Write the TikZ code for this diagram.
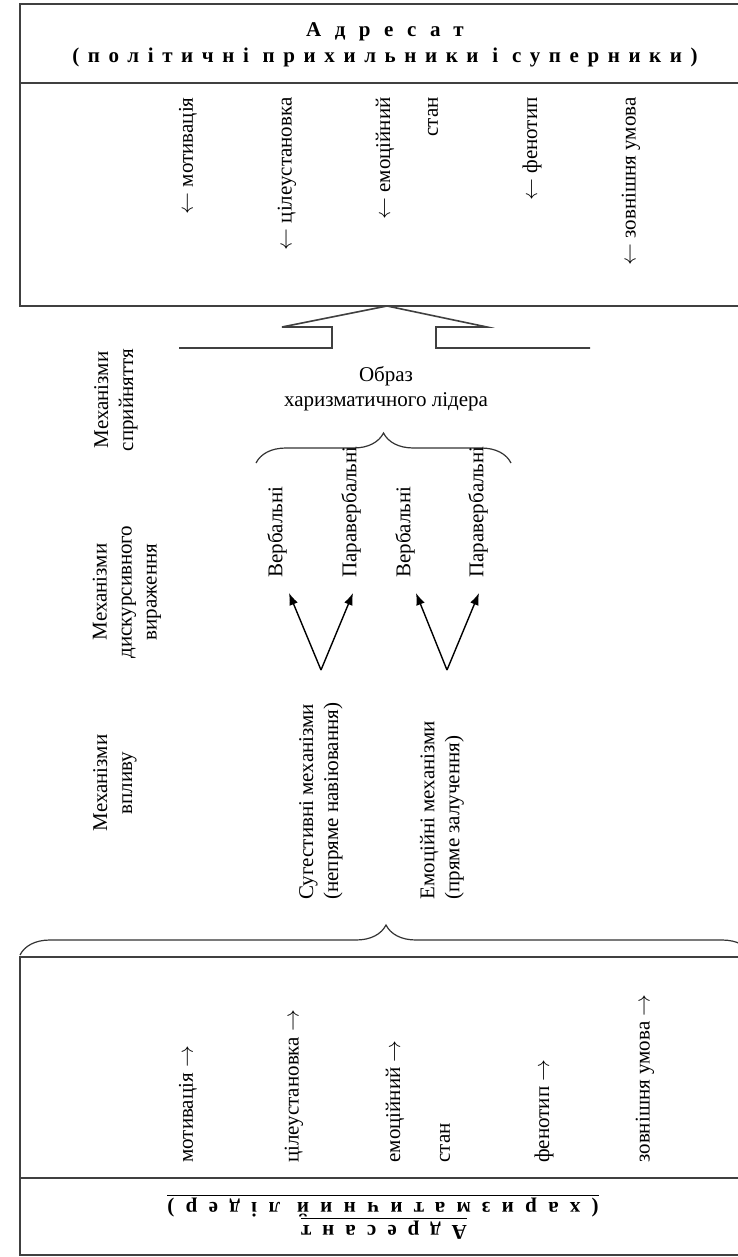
\documentclass[tikz,border=0pt]{standalone}
\usepackage{fontspec}
\setmainfont{Liberation Serif}
\usetikzlibrary{arrows.meta,decorations.pathreplacing}

\begin{document}
\begin{tikzpicture}[x=0.5pt, y=-0.5pt]
    \tikzset{
      frame/.style={draw=black!75, line width=0.8pt},
      txt/.style={font=\fontsize{10.5}{12.5}\selectfont, inner sep=0pt},
      vlab/.style={txt, rotate=90},
      side/.style={txt, rotate=90, align=center},
      head/.style={inner sep=0pt, font=\fontsize{10.5}{12.5}\selectfont\bfseries\addfontfeature{LetterSpace=#1}},
      hbrace/.style={decorate, decoration={brace, amplitude=15pt}, draw=black!80, line width=0.6pt},
      vee/.style={-{Latex[length=6pt,width=4.5pt]}, line width=0.7pt},
    }
    \useasboundingbox (0,0) rectangle (738,1257);
    \clip (0,0) rectangle (738,1257);
    % ===== Addressee (top box) =====
    \draw[frame] (760,4) -- (20,4) -- (20,306) -- (760,306);
    \draw[frame] (20,83) -- (760,83);
    \node[head=64] (adr) at (385,32) {Адресат};
    \node[head=41] (adrsub) at (385,57) {(політичні прихильники і суперники)};
    \node[vlab, anchor=east] (tmot) at (188,97) {$\leftarrow$ мотивація};
    \node[vlab, anchor=east] (tcil) at (287,97) {$\leftarrow$ цілеустановка};
    \node[vlab, anchor=east] (temo) at (385,97) {$\leftarrow$ емоційний};
    \node[vlab, anchor=east] (tstan) at (433,97) {стан};
    \node[vlab, anchor=east] (tfen) at (532,97) {$\leftarrow$ фенотип};
    \node[vlab, anchor=east] (tzov) at (631,97) {$\leftarrow$ зовнішня умова};
    % ===== Perception =====
    \draw[frame] (179,348) -- (332,348) -- (332,327) -- (282,327) -- (387,306)
      -- (487,327) -- (436,327) -- (436,348) -- (590,348);
    \node[side] (msp) at (116,400) {Механізми\\сприйняття};
    \node[txt, align=center] (obraz) at (386,389) {Образ\\харизматичного лідера};
    \draw[hbrace] (256,463) -- (511,463);
    % ===== Discursive expression =====
    \node[side] (mdv) at (127,592) {Механізми\\дискурсивного\\вираження};
    \node[vlab, anchor=west] (verb1) at (277,578) {Вербальні};
    \node[vlab, anchor=west] (para1) at (351,578) {Паравербальні};
    \node[vlab, anchor=west] (verb2) at (405,578) {Вербальні};
    \node[vlab, anchor=west] (para2) at (478,578) {Паравербальні};
    \coordinate (v1) at (321,670);
    \coordinate (v1a) at (289,593);
    \coordinate (v1b) at (353,593);
    \coordinate (v2) at (447,670);
    \coordinate (v2a) at (416,593);
    \coordinate (v2b) at (479,593);
    \draw[vee] (v1) -- (v1a);
    \draw[vee] (v1) -- (v1b);
    \draw[vee] (v2) -- (v2a);
    \draw[vee] (v2) -- (v2b);
    % ===== Influence =====
    \node[side] (mvp) at (115,783) {Механізми\\впливу};
    \node[vlab, align=left, anchor=west] (sug) at (321,900) {Сугестивні механізми\\(непряме навіювання)};
    \node[vlab, align=left, anchor=west] (emo) at (442,900) {Емоційні механізми\\(пряме залучення)};
    \draw[hbrace] (20,955) -- (752,955);
    % ===== Addresser (bottom box) =====
    \draw[frame] (760,957) -- (20,957) -- (20,1255) -- (760,1255);
    \draw[frame] (20,1178) -- (760,1178);
    \node[vlab, anchor=west] (bmot) at (188,1163) {мотивація $\rightarrow$};
    \node[vlab, anchor=west] (bcil) at (294,1163) {цілеустановка $\rightarrow$};
    \node[vlab, anchor=west] (bemo) at (395,1163) {емоційний $\rightarrow$};
    \node[vlab, anchor=west] (bstan) at (445,1163) {стан};
    \node[vlab, anchor=west] (bfen) at (544,1163) {фенотип $\rightarrow$};
    \node[vlab, anchor=west] (bzov) at (645,1163) {зовнішня умова $\rightarrow$};
    \node[head=52, rotate=180] (adrt) at (384,1228) {\underline{Адресант}};
    \node[head=54, rotate=180] (har) at (383,1206) {\underline{(харизматичний лідер)}};
\end{tikzpicture}
\end{document}
